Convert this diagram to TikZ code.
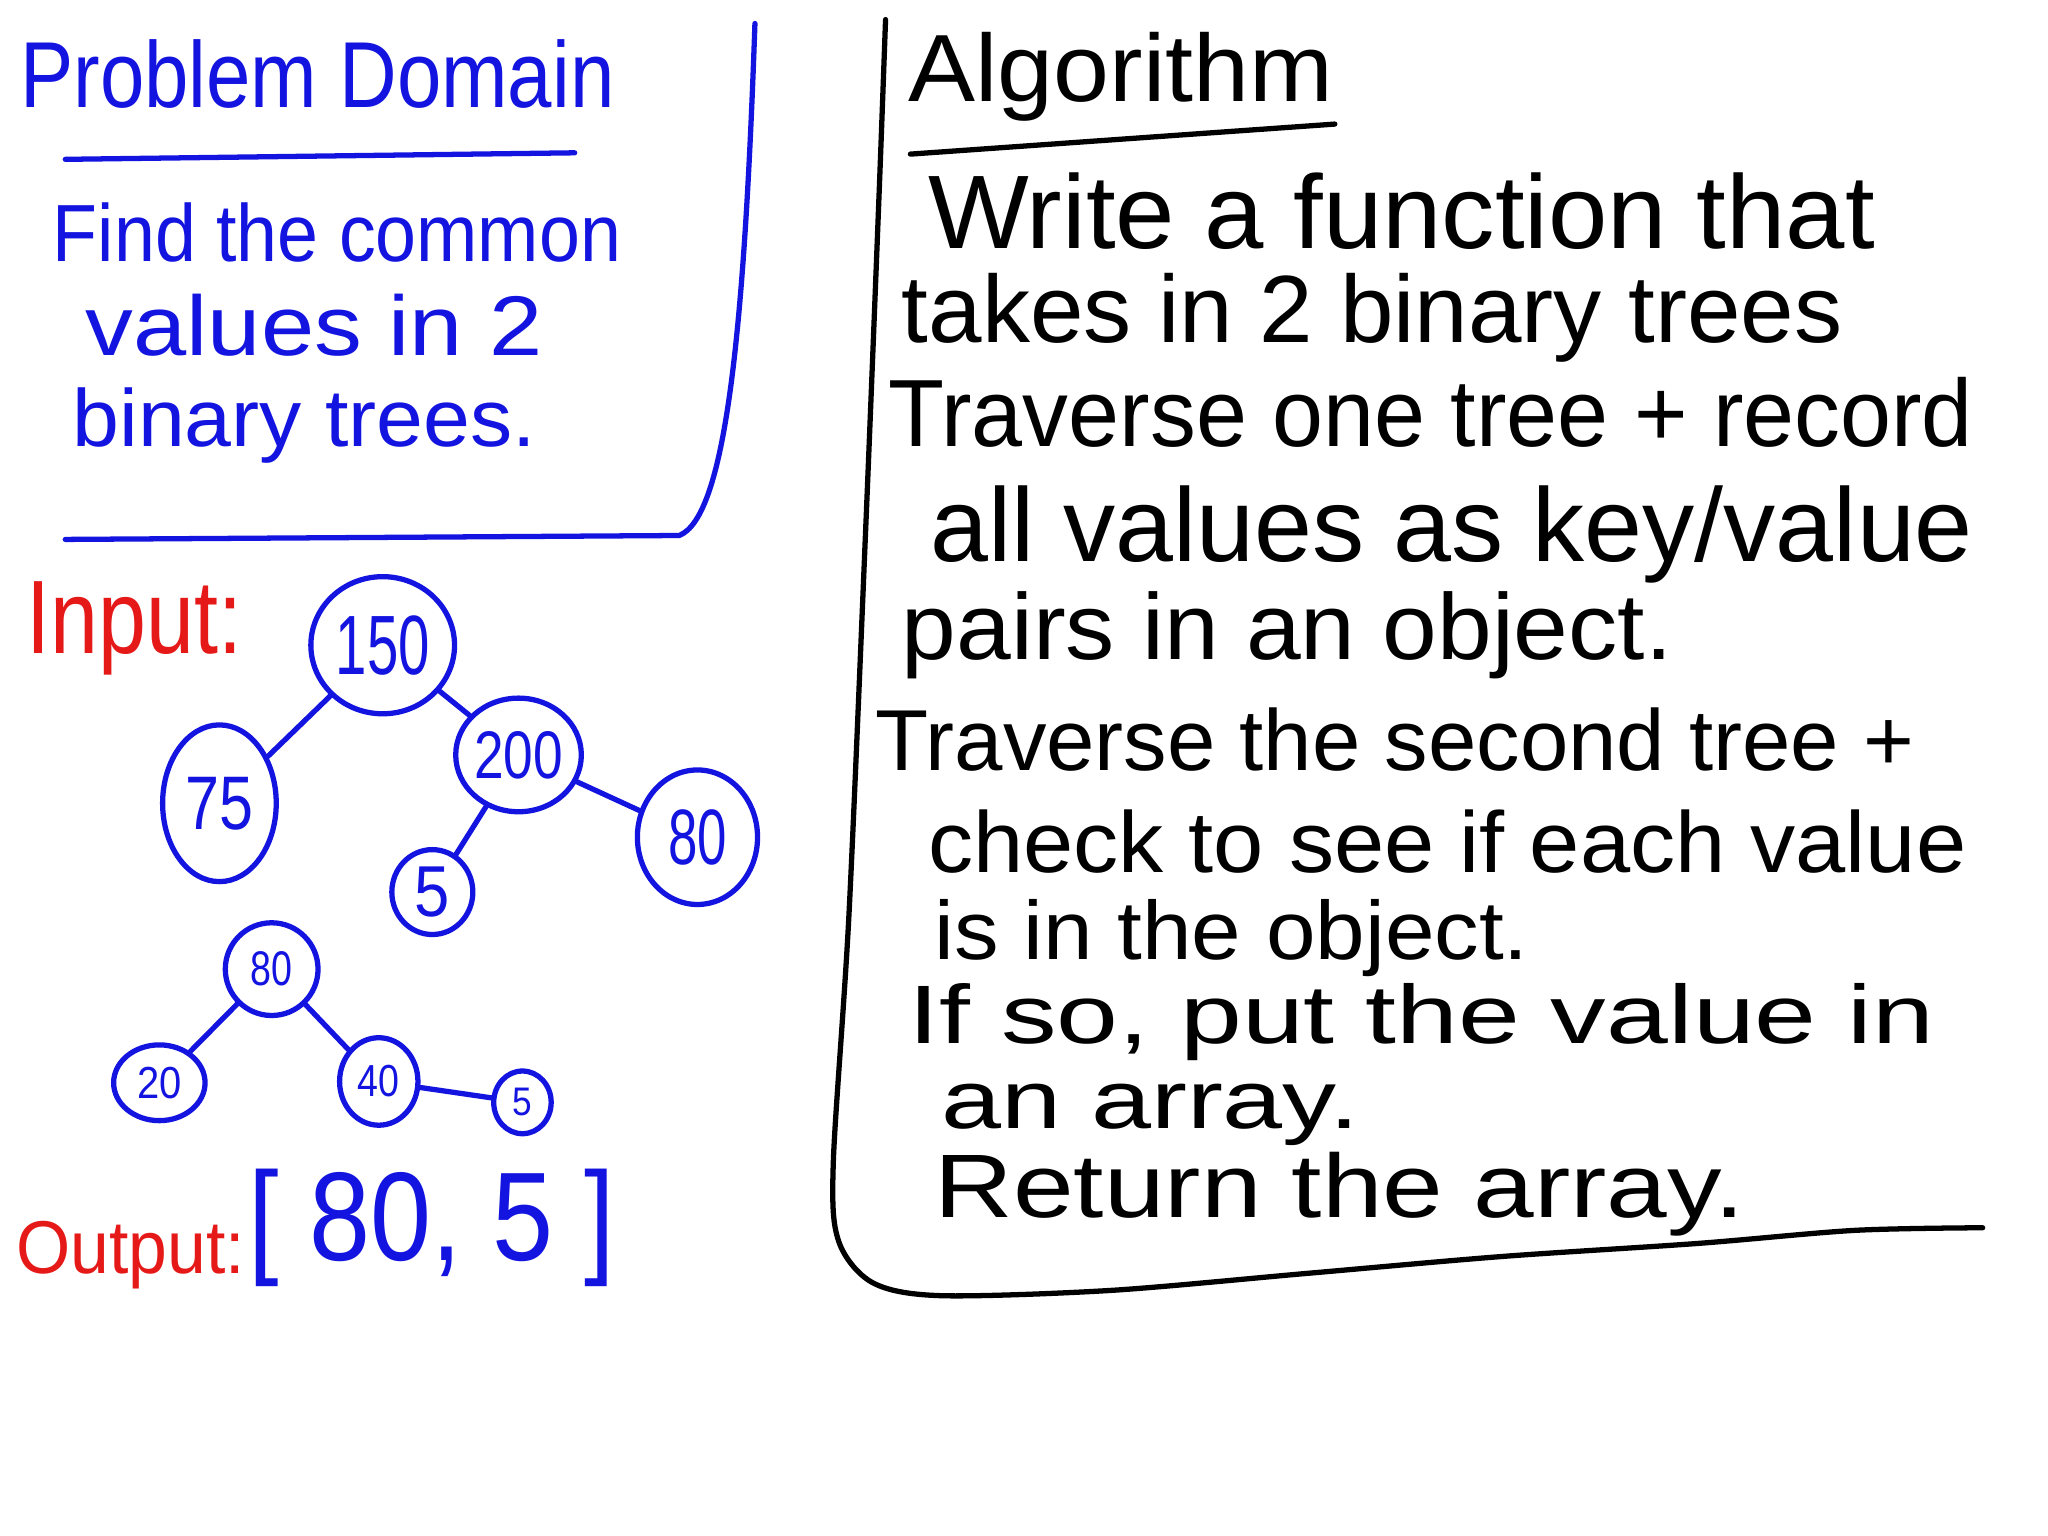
\documentclass[tikz,border=0pt]{standalone}
\usepackage{fontspec}
\setmainfont{Liberation Sans}
\usepackage{graphicx}
\usepackage{tikz}
\usetikzlibrary{shapes.geometric}
\definecolor{penblue}{RGB}{20, 20, 225}
\definecolor{penred}{RGB}{230, 25, 25}
\newlength{\unitpx}
\setlength{\unitpx}{0.01306cm}
% handwritten line squeezed into its box (width, height in px)
\newcommand{\hw}[3]{\resizebox{#1\unitpx}{#2\unitpx}{#3}}

\begin{document}
\begin{tikzpicture}[
  x=0.01306cm, y=-0.01306cm,
  hand/.style={inner sep=0pt, anchor=base west},
  tnode/.style={ellipse, draw=penblue, line width=1.5pt, inner sep=0pt, text=penblue},
  link/.style={draw=penblue, line width=1.5pt, line cap=round},
  pen/.style={line width=1.5pt, line cap=round, line join=round}
]
\fill[white] (0,0) rectangle (1568,1176);
\useasboundingbox (0,0) rectangle (1568,1176);

% problem domain
\node[hand, text=penblue] (pdtitle) at (15,82) {\hw{455}{52}{Problem Domain}};
\draw[pen, penblue] (50,122) -- (440,117);
\node[hand, text=penblue] (pd1) at (40,200) {\hw{435}{45}{Find the common}};
\node[hand, text=penblue] (pd2) at (65,272) {\hw{350}{47}{values in 2}};
\node[hand, text=penblue] (pd3) at (55,342) {\hw{355}{45}{binary trees.}};
\draw[pen, penblue] (578,18) .. controls (570,250) and (556,396) .. (520,410) -- (50,413);

% input trees
\node[hand, text=penred] (inlabel) at (20,500) {\hw{165}{55}{Input:}};

\node[tnode, minimum width=110\unitpx, minimum height=105\unitpx] (n150) at (293,494) {\hw{72}{45}{150}};
\node[tnode, minimum width=87\unitpx, minimum height=120\unitpx] (n75) at (168,615) {\hw{52}{40}{75}};
\node[tnode, minimum width=95\unitpx, minimum height=87\unitpx] (n200) at (397,578) {\hw{68}{36}{200}};
\node[tnode, minimum width=62\unitpx, minimum height=65\unitpx] (n5a) at (331,683) {\hw{27}{38}{5}};
\node[tnode, minimum width=92\unitpx, minimum height=103\unitpx] (n80a) at (534,641) {\hw{45}{42}{80}};

\draw[link] (n150) -- (n75);
\draw[link] (n150) -- (n200);
\draw[link] (n200) -- (n5a);
\draw[link] (n200) -- (n80a);

\node[tnode, minimum width=71\unitpx, minimum height=71\unitpx] (n80b) at (208,742) {\hw{32}{26}{80}};
\node[tnode, minimum width=70\unitpx, minimum height=58\unitpx] (n20) at (122,829) {\hw{34}{24}{20}};
\node[tnode, minimum width=60\unitpx, minimum height=67\unitpx] (n40) at (290,828) {\hw{32}{24}{40}};
\node[tnode, minimum width=44\unitpx, minimum height=48\unitpx] (n5b) at (400,844) {\hw{15}{21}{5}};

\draw[link] (n80b) -- (n20);
\draw[link] (n80b) -- (n40);
\draw[link] (n40) -- (n5b);

% output
\node[hand, text=penred] (outlabel) at (12,975) {\hw{175}{40}{Output:}};
\node[hand, text=penblue] (result) at (190,965) {\hw{280}{70}{[ 80, 5 ]}};

% algorithm
\node[hand] (algtitle) at (695,78) {\hw{325}{53}{Algorithm}};
\draw[pen] (697,118) -- (1022,95);
\node[hand] (a1) at (710,190) {\hw{725}{58}{Write a function that}};
\node[hand] (a2) at (690,262) {\hw{720}{53}{takes in 2 binary trees}};
\node[hand] (a3) at (680,342) {\hw{830}{53}{Traverse one tree + record}};
\node[hand] (a4) at (712,430) {\hw{798}{58}{all values as key/value}};
\node[hand] (a5) at (690,505) {\hw{590}{52}{pairs in an object.}};
\node[hand] (a6) at (670,590) {\hw{795}{48}{Traverse the second tree +}};
\node[hand] (a7) at (710,668) {\hw{795}{48}{check to see if each value}};
\node[hand] (a8) at (715,735) {\hw{455}{46}{is in the object.}};
\node[hand] (a9) at (695,799) {\hw{785}{46}{If so, put the value in}};
\node[hand] (a10) at (720,864) {\hw{320}{34}{an array.}};
\node[hand] (a11) at (715,932) {\hw{620}{50}{Return the array.}};
\draw[pen] plot[smooth] coordinates {(678,15) (673,150) (663,400) (650,700) (638,890) (642,950) (668,982) (720,992) (850,988) (1000,975) (1150,962) (1300,952) (1420,942) (1518,940)};

\end{tikzpicture}
\end{document}
